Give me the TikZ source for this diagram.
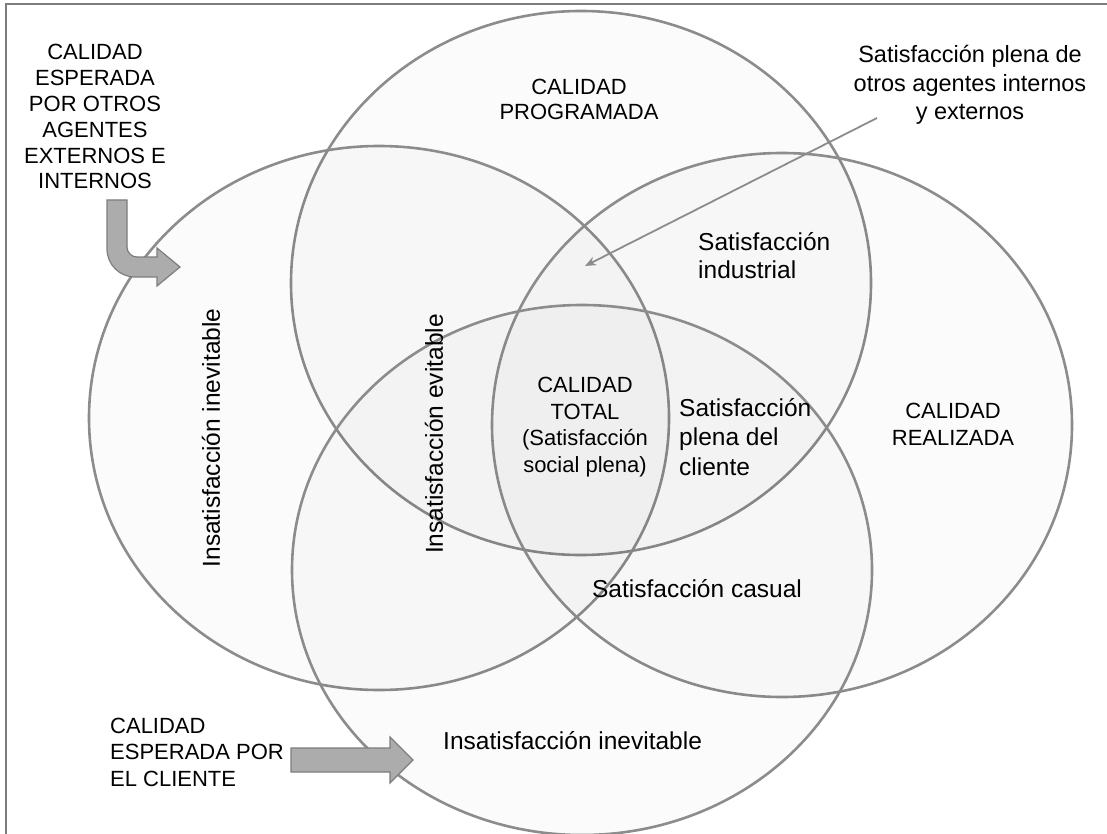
\documentclass[tikz,border=0pt]{standalone}
\usepackage{fontspec}
\setmainfont{Liberation Sans}
\usetikzlibrary{arrows.meta, shapes.geometric}
\definecolor{vgray}{RGB}{140,140,140}
\definecolor{agray}{RGB}{172,172,172}
\definecolor{bgray}{RGB}{125,125,125}

\begin{document}
\begin{tikzpicture}[x=1pt, y=-1pt,
  venn/.style={ellipse, draw=vgray, line width=2.6pt, fill=black, fill opacity=0.015,
               minimum width=580pt, minimum height=544pt, inner sep=0pt},
  caltxt/.style={font=\fontsize{22}{25.8}\selectfont, align=center, inner sep=0pt, anchor=base},
  sattxt/.style={font=\fontsize{24.5}{28.5}\selectfont, align=left, inner sep=0pt, anchor=base west},
  blk/.style={fill=agray, draw=bgray, line width=1.2pt},
  lead/.style={-{Stealth[length=11pt, width=9pt]}, line width=1.8pt, vgray}
]
\useasboundingbox (0,0) rectangle (1107,834);
\draw[bgray, line width=2pt] (6,834) -- (6,4) -- (1107,4);

\node[venn] (prog) at (581,283) {};
\node[venn] (espo) at (379,418) {};
\node[venn] (real) at (782,425) {};
\node[venn, minimum height=530pt] (clie) at (582,570) {};

\node[caltxt] (espotxt) at (95,189) {CALIDAD\\ESPERADA\\POR OTROS\\AGENTES\\EXTERNOS E\\INTERNOS};
\node[caltxt, font=\fontsize{22}{25}\selectfont] (progtxt) at (579,120) {CALIDAD\\PROGRAMADA};
\node[caltxt, font=\fontsize{23.5}{28.5}\selectfont] (otrostxt) at (970,120) {Satisfacción plena de\\otros agentes internos\\y externos};
\node[sattxt, font=\fontsize{24.5}{28}\selectfont] (industxt) at (698,278) {Satisfacción\\industrial};
\node[caltxt, font=\fontsize{22}{26.5}\selectfont] (totaltxt) at (585,472) {CALIDAD\\TOTAL\\(Satisfacción\\social plena)};
\node[sattxt, font=\fontsize{24.5}{29.5}\selectfont] (clientetxt) at (679,475) {Satisfacción\\plena del\\cliente};
\node[caltxt, font=\fontsize{22}{27}\selectfont] (realtxt) at (953,445) {CALIDAD\\REALIZADA};
\node[sattxt, anchor=base] (casualtxt) at (697,597) {Satisfacción casual};
\node[sattxt] (inevbot) at (443,749) {Insatisfacción inevitable};
\node[caltxt, align=left, anchor=base west, font=\fontsize{22}{26.5}\selectfont] (clitxt) at (110,786) {CALIDAD\\ESPERADA POR\\EL CLIENTE};
\node[sattxt, anchor=center, rotate=90] (inevleft) at (211,438) {Insatisfacción inevitable};
\node[sattxt, anchor=center, rotate=90] (evittxt) at (434,434) {Insatisfacción evitable};

\filldraw[blk] (107,200) -- (107,249) .. controls (107,264.5) and (119.5,277) .. (135,277)
  -- (157,277) -- (157,286) -- (180,267) -- (157,248) -- (157,257) -- (137,257)
  .. controls (131.5,257) and (127,252.5) .. (127,247) -- (127,200) -- cycle;
\filldraw[blk] (291,748) -- (390,748) -- (390,737) -- (413,760) -- (390,783)
  -- (390,772) -- (291,772) -- cycle;

\coordinate (ldfrom) at (877,118);
\coordinate (ldto) at (585,266);
\draw[lead] (ldfrom) -- (ldto);
\end{tikzpicture}
\end{document}
